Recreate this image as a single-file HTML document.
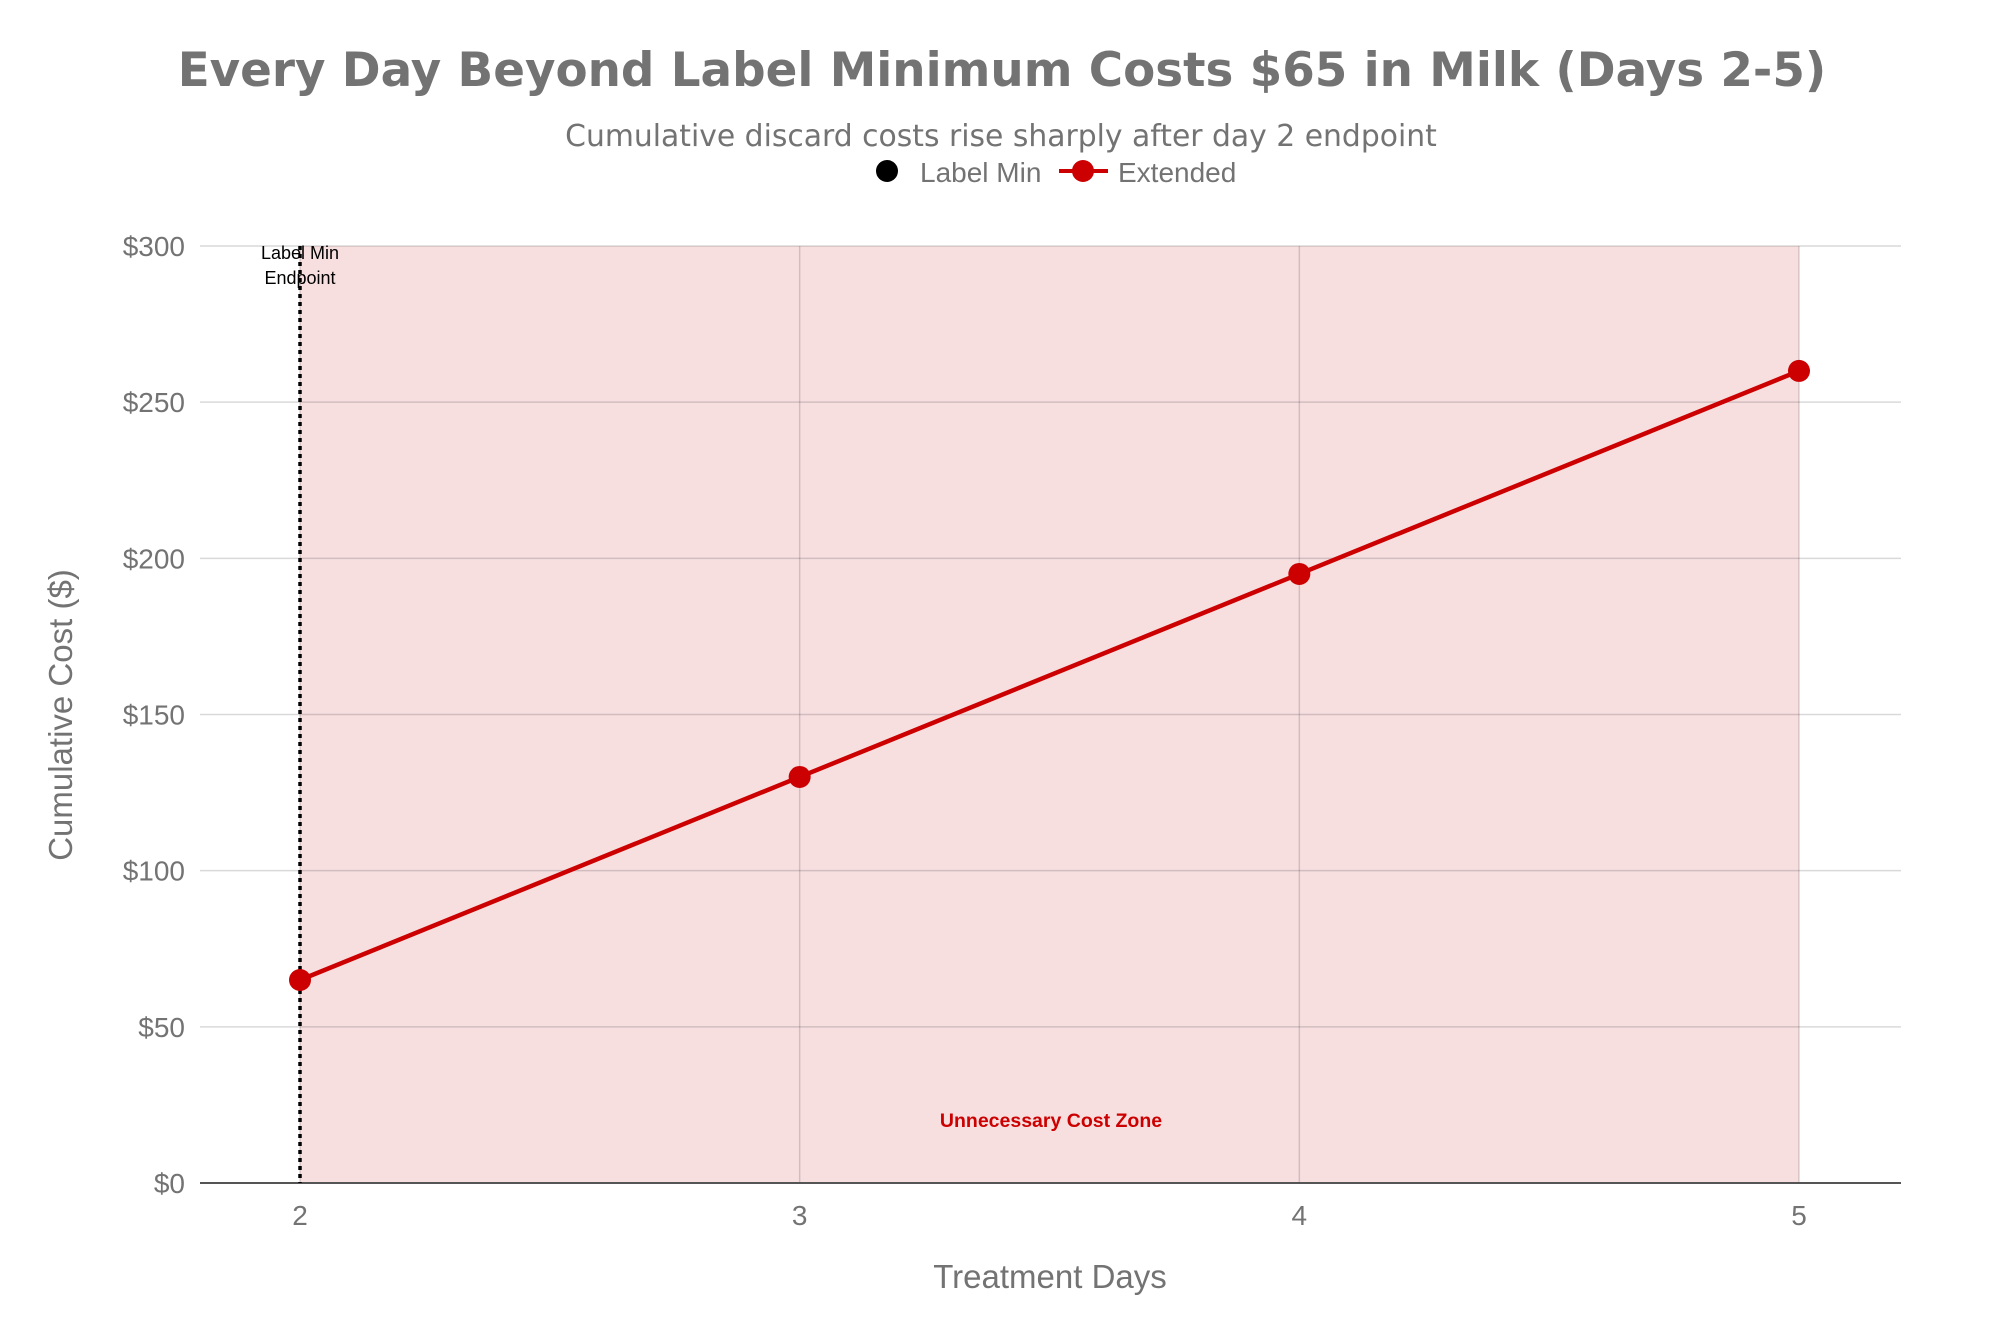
<!DOCTYPE html>
<html><head><meta charset="utf-8"><style>
html,body{margin:0;padding:0;background:#fff;}
svg{display:block;font-family:"Liberation Sans",sans-serif;}
</style></head><body>
<svg id="chart" width="2000" height="1333" viewBox="0 0 2000 1333">
<text x="1002" y="86" text-anchor="middle" font-size="46.8" font-weight="bold" fill="#737373" style="font-family:'DejaVu Sans',sans-serif">Every Day Beyond Label Minimum Costs $65 in Milk (Days 2-5)</text>
<text x="1001" y="146" text-anchor="middle" font-size="29.8" fill="#737373" style="font-family:'DejaVu Sans',sans-serif">Cumulative discard costs rise sharply after day 2 endpoint</text>
<g>
<g>
<circle cx="887" cy="171" r="11" fill="#000"/>
<text x="920" y="182" font-size="28" fill="#737373">Label Min</text></g>
<g>
<line x1="1059" y1="171" x2="1108" y2="171" stroke="#cc0000" stroke-width="4"/>
<circle cx="1083" cy="171" r="11" fill="#cc0000"/>
<text x="1118" y="182" font-size="28" fill="#737373">Extended</text></g>
</g>
<g id="plot"></g>
</svg>
<script>
const days = [2, 3, 4, 5];
const costs = [65, 130, 195, 260];
const yTicks = [0, 50, 100, 150, 200, 250, 300];
const yTickLabels = ["$0", "$50", "$100", "$150", "$200", "$250", "$300"];
const xTicks = [2, 3, 4, 5];
const labelMinDay = 2;
const zoneStart = 2, zoneEnd = 5;

const L = 200, R = 1901, T = 246, B = 1183;
const x = d => 300 + (d - 2) * (1799 - 300) / 3;
const y = v => B - v * (B - T) / 300;
const NS = "http://www.w3.org/2000/svg";
const g = document.getElementById('plot');
function mk(tag, attrs, parent) {
  const e = document.createElementNS(NS, tag);
  for (const k in attrs) e.setAttribute(k, attrs[k]);
  (parent || g).appendChild(e);
  return e;
}
let e;
e = mk('rect', {x: x(zoneStart), y: y(300), width: x(zoneEnd) - x(zoneStart), height: y(0) - y(300), fill: '#f7dfe0'});


yTicks.forEach((v, i) => {
  if (v > 0) {
    e = mk('line', {x1: L, x2: R, y1: y(v), y2: y(v), stroke: 'rgba(0,0,0,0.15)', 'stroke-width': 1.5});
    
    
  }
  e = mk('text', {x: 185, y: y(v) + 10, 'text-anchor': 'end', 'font-size': 28, fill: '#737373'});
  e.textContent = yTickLabels[i];
  
  
});
xTicks.forEach(d => {
  e = mk('line', {x1: x(d), x2: x(d), y1: T, y2: B, stroke: 'rgba(0,0,0,0.15)', 'stroke-width': 1.5});
  
  
  e = mk('text', {x: x(d), y: 1225, 'text-anchor': 'middle', 'font-size': 28, fill: '#737373'});
  e.textContent = d;
  
  
});
e = mk('line', {x1: L, x2: R, y1: B, y2: B, stroke: '#555', 'stroke-width': 2});


e = mk('line', {x1: x(labelMinDay), x2: x(labelMinDay), y1: T, y2: B, stroke: '#000', 'stroke-width': 3.5, 'stroke-dasharray': '4,4'});


e = mk('text', {x: x(labelMinDay), y: 259, 'text-anchor': 'middle', 'font-size': 18, fill: '#000'});
e.textContent = 'Label Min';


e = mk('text', {x: x(labelMinDay), y: 284, 'text-anchor': 'middle', 'font-size': 18, fill: '#000'});
e.textContent = 'Endpoint';


e = mk('text', {x: 1051, y: 1127, 'text-anchor': 'middle', 'font-size': 19.5, 'font-weight': 'bold', fill: '#cc0000'});
e.textContent = 'Unnecessary Cost Zone';


e = mk('polyline', {points: days.map((d, i) => x(d) + ',' + y(costs[i])).join(' '), fill: 'none', stroke: '#cc0000', 'stroke-width': 4.5});


days.forEach((d, i) => {
  e = mk('circle', {cx: x(d), cy: y(costs[i]), r: 11, fill: '#cc0000'});
  
  
});
e = mk('text', {x: 1050, y: 1288, 'text-anchor': 'middle', 'font-size': 33, fill: '#737373'});
e.textContent = 'Treatment Days';


e = mk('text', {x: 0, y: 0, 'text-anchor': 'middle', 'font-size': 33, fill: '#737373', transform: 'translate(72,715) rotate(-90)'});
e.textContent = 'Cumulative Cost ($)';


</script>
</body></html>
